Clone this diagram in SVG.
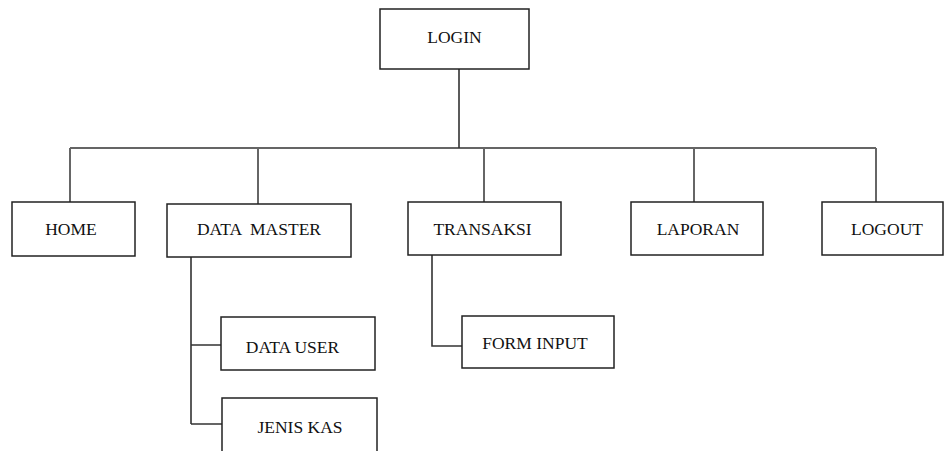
<svg xmlns="http://www.w3.org/2000/svg" width="945" height="451" viewBox="0 0 945 451">
<style>
.box{fill:#fff;stroke:#222;stroke-width:1.5}
.lbl{font-family:"Liberation Serif","Times New Roman",serif;font-size:17.5px;fill:#111;text-anchor:middle}
.ln{fill:none;stroke:#333;stroke-width:1.6}
.dr{fill:none;stroke:#666;stroke-width:2}
</style>
<rect width="945" height="451" fill="#fff"/>
<g id="connectors">
<path class="ln" d="M459,69 V148 M70,148 H876"/>
<path class="dr" d="M70,148 V202 M258,148 V204 M484,148 V202 M694,148 V202 M876,148 V202"/>
<path class="ln" d="M191,257 V424 M191,345 H221 M191,424 H222"/>
<path class="ln" d="M432,255 V346 H462"/>
</g>
<g id="login"><rect class="box" x="380" y="9" width="149" height="60"/><text class="lbl" x="454.5" y="43">LOGIN</text></g>
<g id="home"><rect class="box" x="12" y="202" width="123" height="54"/><text class="lbl" x="71" y="235">HOME</text></g>
<g id="data-master"><rect class="box" x="167" y="204" width="184" height="53"/><text class="lbl" x="259" y="235" xml:space="preserve">DATA  MASTER</text></g>
<g id="transaksi"><rect class="box" x="408" y="202" width="153" height="53"/><text class="lbl" x="482.5" y="235">TRANSAKSI</text></g>
<g id="laporan"><rect class="box" x="631" y="202" width="132" height="53"/><text class="lbl" x="698" y="235">LAPORAN</text></g>
<g id="logout"><rect class="box" x="822" y="202" width="121" height="53"/><text class="lbl" x="887" y="235">LOGOUT</text></g>
<g id="data-user"><rect class="box" x="221" y="317" width="154" height="53"/><text class="lbl" x="292.5" y="353">DATA USER</text></g>
<g id="jenis-kas"><rect class="box" x="222" y="398" width="155" height="60"/><text class="lbl" x="300" y="433">JENIS KAS</text></g>
<g id="form-input"><rect class="box" x="462" y="316" width="152" height="52"/><text class="lbl" x="535" y="349">FORM INPUT</text></g>
</svg>
